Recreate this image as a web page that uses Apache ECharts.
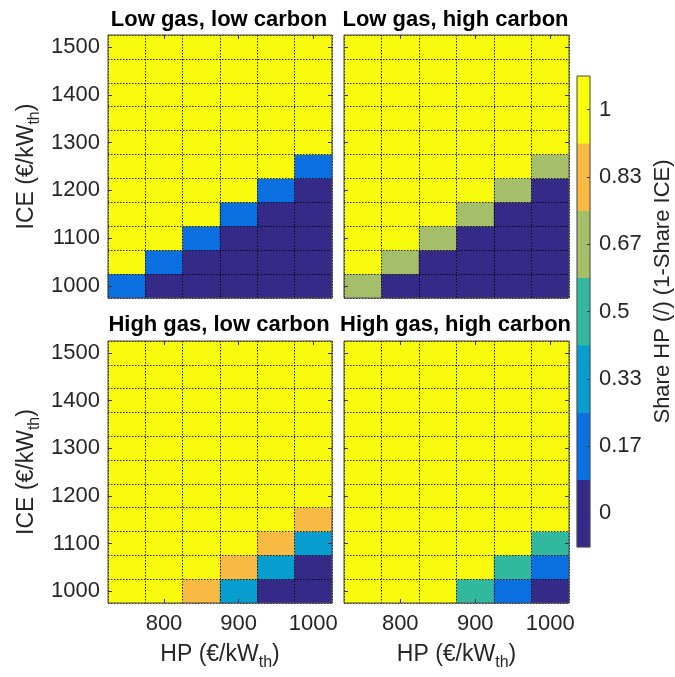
<!DOCTYPE html>
<html><head><meta charset="utf-8">
<script src="https://cdn.jsdelivr.net/npm/echarts@6/dist/echarts.min.js"></script>
<style>html,body{margin:0;padding:0;background:#fff}#c{width:675px;height:677px}</style>
</head><body><div id="c"></div>
<script>
// ---------- data ----------
const hpCosts = ['750', '800', '850', '900', '950', '1000'];
const iceCosts = ['1000', '1050', '1100', '1150', '1200', '1250', '1300', '1350', '1400', '1450', '1500'];
const shareLevels = [0, 0.17, 0.33, 0.5, 0.67, 0.83, 1];
const levelColors = ['#352A87', '#0A6FE0', '#079DCF', '#33B8A0', '#A5BE6A', '#F8BA43', '#F9FB0E'];
const panelTitles = ['Low gas, low carbon', 'Low gas, high carbon', 'High gas, low carbon', 'High gas, high carbon'];
// rows: ICE 1000 (bottom) .. 1500 (top); columns: HP 750 .. 1000
const lowGasLowCarbon = [
  [0.17, 0, 0, 0, 0, 0],
  [1, 0.17, 0, 0, 0, 0],
  [1, 1, 0.17, 0, 0, 0],
  [1, 1, 1, 0.17, 0, 0],
  [1, 1, 1, 1, 0.17, 0],
  [1, 1, 1, 1, 1, 0.17],
  [1, 1, 1, 1, 1, 1],
  [1, 1, 1, 1, 1, 1],
  [1, 1, 1, 1, 1, 1],
  [1, 1, 1, 1, 1, 1],
  [1, 1, 1, 1, 1, 1]
];
const lowGasHighCarbon = [
  [0.67, 0, 0, 0, 0, 0],
  [1, 0.67, 0, 0, 0, 0],
  [1, 1, 0.67, 0, 0, 0],
  [1, 1, 1, 0.67, 0, 0],
  [1, 1, 1, 1, 0.67, 0],
  [1, 1, 1, 1, 1, 0.67],
  [1, 1, 1, 1, 1, 1],
  [1, 1, 1, 1, 1, 1],
  [1, 1, 1, 1, 1, 1],
  [1, 1, 1, 1, 1, 1],
  [1, 1, 1, 1, 1, 1]
];
const highGasLowCarbon = [
  [1, 1, 0.83, 0.33, 0, 0],
  [1, 1, 1, 0.83, 0.33, 0],
  [1, 1, 1, 1, 0.83, 0.33],
  [1, 1, 1, 1, 1, 0.83],
  [1, 1, 1, 1, 1, 1],
  [1, 1, 1, 1, 1, 1],
  [1, 1, 1, 1, 1, 1],
  [1, 1, 1, 1, 1, 1],
  [1, 1, 1, 1, 1, 1],
  [1, 1, 1, 1, 1, 1],
  [1, 1, 1, 1, 1, 1]
];
const highGasHighCarbon = [
  [1, 1, 1, 0.5, 0.17, 0],
  [1, 1, 1, 1, 0.5, 0.17],
  [1, 1, 1, 1, 1, 0.5],
  [1, 1, 1, 1, 1, 1],
  [1, 1, 1, 1, 1, 1],
  [1, 1, 1, 1, 1, 1],
  [1, 1, 1, 1, 1, 1],
  [1, 1, 1, 1, 1, 1],
  [1, 1, 1, 1, 1, 1],
  [1, 1, 1, 1, 1, 1],
  [1, 1, 1, 1, 1, 1]
];
const panels = [lowGasLowCarbon, lowGasHighCarbon, highGasLowCarbon, highGasHighCarbon];

// ---------- layout / style ----------
const FONT = 'Liberation Sans, Arial, Helvetica, sans-serif';
const TXT = '#262626';
const grids = [
  { left: 108, top: 35, width: 224, height: 263 },
  { left: 344, top: 35, width: 225, height: 263 },
  { left: 108, top: 341, width: 224, height: 262 },
  { left: 344, top: 341, width: 225, height: 262 },
  { left: 577, top: 76, width: 14, height: 471 }
];
const richSub = {
  n: { fontSize: 23, color: TXT, fontFamily: FONT, lineHeight: 25, verticalAlign: 'top' },
  s: { fontSize: 16, color: TXT, fontFamily: FONT, lineHeight: 17, verticalAlign: 'top', padding: [12, 0, 0, 0] }
};
const dotted = { type: [1.5, 1.5], color: '#000', width: 1, opacity: 0.85 };
const tickStyle = { color: '#333', width: 1 };
const xTickAt = (i) => i % 2 === 1;
const yTickAt = (i) => i % 2 === 0;

const xAxes = [], yAxes = [], series = [], titles = [];
panels.forEach((mat, p) => {
  const isBottom = p >= 2, isLeft = p % 2 === 0;
  const g = grids[p];
  titles.push({
    text: panelTitles[p], left: g.left + g.width / 2 - 6, top: isBottom ? 309 : 4, textAlign: 'center',
    textStyle: { fontSize: 22, fontWeight: 'bold', color: '#000', fontFamily: FONT }
  });
  xAxes.push({
    type: 'category', gridIndex: p, data: hpCosts, z: 5, position: 'bottom',
    axisLine: { show: false },
    axisTick: { show: true, inside: true, alignWithLabel: true, length: 4, interval: xTickAt, lineStyle: tickStyle },
    axisLabel: { show: isBottom, interval: xTickAt, fontSize: 22, color: TXT, fontFamily: FONT, margin: 10 },
    splitLine: { show: true, interval: 0, lineStyle: dotted },
    name: isBottom ? '{n|HP (€/kW}{s|th}{n|)}' : '', nameLocation: 'middle', nameGap: 40,
    nameTextStyle: { rich: richSub }
  });
  yAxes.push({
    type: 'category', gridIndex: p, data: iceCosts, z: 5, position: 'left',
    axisLine: { show: false },
    axisTick: { show: true, inside: true, alignWithLabel: true, length: 4, interval: yTickAt, lineStyle: tickStyle },
    axisLabel: { show: isLeft, interval: yTickAt, fontSize: 22, color: TXT, fontFamily: FONT, margin: 8 },
    splitLine: { show: true, interval: 0, lineStyle: dotted },
    name: isLeft ? '{n|ICE (€/kW}{s|th}{n|)}' : '', nameLocation: 'middle', nameRotate: 90, nameGap: 68,
    nameTextStyle: { rich: richSub }
  });
  const data = [];
  mat.forEach((row, r) => row.forEach((v, c) => data.push([c, r, v])));
  series.push({ type: 'heatmap', xAxisIndex: p, yAxisIndex: p, data: data, itemStyle: { borderWidth: 0 }, emphasis: { disabled: true } });
});
// mirrored tick marks on top and right edges of each panel
panels.forEach((mat, p) => {
  xAxes.push({
    type: 'category', gridIndex: p, data: hpCosts, z: 5, position: 'top',
    axisLine: { show: false }, axisLabel: { show: false }, splitLine: { show: false },
    axisTick: { show: true, inside: true, alignWithLabel: true, length: 4, interval: xTickAt, lineStyle: tickStyle }
  });
  yAxes.push({
    type: 'category', gridIndex: p, data: iceCosts, z: 5, position: 'right',
    axisLine: { show: false }, axisLabel: { show: false }, splitLine: { show: false },
    axisTick: { show: true, inside: true, alignWithLabel: true, length: 4, interval: yTickAt, lineStyle: tickStyle }
  });
});

// colorbar
const cbX = xAxes.length, cbY = yAxes.length;
xAxes.push({ type: 'category', gridIndex: 4, data: [''], show: false });
yAxes.push({
  type: 'category', gridIndex: 4, data: shareLevels.map(String), position: 'right', z: 5,
  axisLine: { show: false },
  axisTick: { show: true, inside: true, alignWithLabel: true, length: 3, lineStyle: tickStyle },
  axisLabel: { fontSize: 22, color: TXT, fontFamily: FONT, margin: 9 },
  splitLine: { show: false },
  name: 'Share HP (/) (1-Share ICE)', nameLocation: 'middle', nameRotate: 90, nameGap: 62,
  nameTextStyle: { fontSize: 22, color: TXT, fontFamily: FONT, padding: [0, 0, 0, 40] }
});
series.push({
  type: 'heatmap', xAxisIndex: cbX, yAxisIndex: cbY,
  data: shareLevels.map((v, i) => [0, i, v]), itemStyle: { borderWidth: 0 }, emphasis: { disabled: true }
});

const chart = echarts.init(document.getElementById('c'), null, { renderer: 'canvas' });
chart.setOption({
  animation: false,
  backgroundColor: '#fff',
  title: titles,
  grid: grids.map(g => Object.assign({ show: true, z: 10, borderColor: '#4a4a4a', borderWidth: 1, backgroundColor: 'transparent' }, g)),
  xAxis: xAxes,
  yAxis: yAxes,
  visualMap: {
    type: 'piecewise', show: false, dimension: 2,
    pieces: shareLevels.map((v, i) => ({ gte: v - 0.05, lte: v + 0.05, color: levelColors[i] }))
  },
  series: series
});
</script></body></html>
